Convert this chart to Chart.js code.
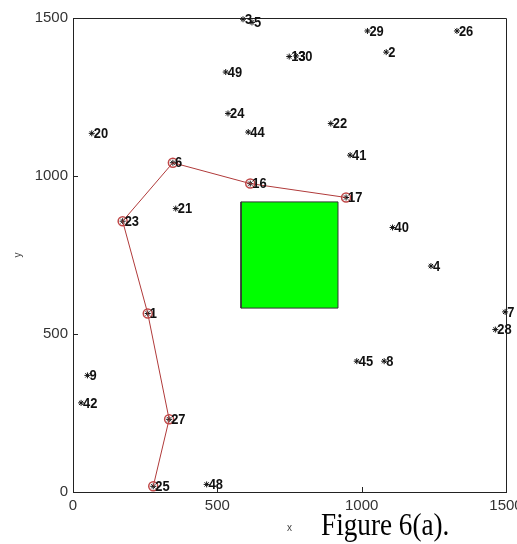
<!DOCTYPE html>
<html>
<head>
<meta charset="utf-8">
<script src="https://cdn.jsdelivr.net/npm/chart.js@4.4.1/dist/chart.umd.min.js"></script>
<style>
  html, body { margin: 0; padding: 0; background: #fff; }
  #wrap { width: 517px; height: 544px; }
</style>
</head>
<body>
<div id="wrap"><canvas id="pathChart"></canvas></div>
<script>
// nodes (id, x, y)
const nodeIds = [1, 2, 3, 4, 5, 6, 7, 8, 9, 13, 16, 17, 20, 21, 22, 23, 24, 25, 26, 27, 28, 29, 30, 40, 41, 42, 44, 45, 48, 49]
const nodeX = [259, 1085, 589, 1240, 620, 346, 1497, 1078, 50, 749, 614, 946, 65, 356, 893, 172, 537, 278, 1330, 333, 1463, 1020, 773, 1107, 960, 28, 607, 983, 463, 529]
const nodeY = [565, 1392, 1496, 715, 1486, 1042, 570, 414, 369, 1378, 976, 932, 1135, 897, 1166, 857, 1198, 18, 1459, 230, 514, 1459, 1380, 837, 1066, 282, 1139, 414, 24, 1329]

// route through the nodes, start -> end
const pathIds = [25, 27, 1, 23, 6, 16, 17]

// obstacle square
const obstacleX = [582, 918]
const obstacleY = [582, 918]

const axisTicks = [0, 500, 1000, 1500]

const nodePoints = nodeIds.map((id, i) => ({ x: nodeX[i], y: nodeY[i] }))
const pathPoints = pathIds.map((id) => nodePoints[nodeIds.indexOf(id)])
const obstaclePoints = [
  { x: obstacleX[0], y: obstacleY[0] },
  { x: obstacleX[1], y: obstacleY[0] },
  { x: obstacleX[1], y: obstacleY[1] },
  { x: obstacleX[0], y: obstacleY[1] },
  { x: obstacleX[0], y: obstacleY[0] },
]

const tickFont = { family: "'Liberation Sans', Arial, sans-serif", size: 15 }

const framePlugin = {
  id: "frame",
  afterDatasetsDraw(chart) {
    const ctx = chart.ctx
    const a = chart.chartArea
    const xs = chart.scales.x
    const ys = chart.scales.y
    ctx.save()
    ctx.strokeStyle = "#222"
    ctx.lineWidth = 1
    ctx.beginPath()
    ctx.moveTo(Math.round(a.left) + 0.5, Math.round(a.top) + 0.5)
    ctx.lineTo(Math.round(a.right) + 0.5, Math.round(a.top) + 0.5)
    ctx.lineTo(Math.round(a.right) + 0.5, Math.round(a.bottom) + 0.5)
    // inward tick marks
    axisTicks.forEach((v) => {
      const px = Math.round(xs.getPixelForValue(v)) + 0.5
      ctx.moveTo(px, a.bottom)
      ctx.lineTo(px, a.bottom - 5)
      const py = Math.round(ys.getPixelForValue(v)) + 0.5
      ctx.moveTo(a.left, py)
      ctx.lineTo(a.left + 5, py)
    })
    ctx.stroke()

    // node labels, drawn just right of each marker
    const meta = chart.getDatasetMeta(2)
    ctx.font = "bold 15px 'Liberation Sans', Arial, sans-serif"
    ctx.fillStyle = "#111"
    ctx.textBaseline = "middle"
    ctx.textAlign = "left"
    meta.data.forEach((pt, i) => {
      ctx.save()
      ctx.translate(pt.x + 2, pt.y + 0.5)
      ctx.scale(0.86, 1)
      ctx.fillText(String(nodeIds[i]), 0, 0)
      ctx.restore()
    })
    ctx.restore()
  },
  afterDraw(chart) {
    const ctx = chart.ctx
    ctx.save()
    ctx.font = "32px 'Liberation Serif', 'Times New Roman', serif"
    ctx.fillStyle = "#000"
    ctx.textBaseline = "alphabetic"
    ctx.translate(321, 535)
    ctx.scale(0.85, 1)
    ctx.fillText("Figure 6(a).", 0, 0)
    ctx.restore()
  },
}

const ctx = document.getElementById("pathChart").getContext("2d")
const pathChart = new Chart(ctx, {
  type: "scatter",
  data: {
    datasets: [
      {
        label: "obstacle",
        data: obstaclePoints,
        showLine: true,
        fill: "shape",
        backgroundColor: "#00ff00",
        borderColor: "#333",
        borderWidth: 1,
        pointRadius: 0,
        tension: 0,
        order: 3,
      },
      {
        label: "path",
        data: pathPoints,
        showLine: true,
        borderColor: "#b03a3a",
        borderWidth: 1,
        tension: 0,
        pointStyle: "circle",
        pointRadius: 4.5,
        pointBorderWidth: 1.5,
        pointBorderColor: "#c04848",
        pointBackgroundColor: "rgba(0,0,0,0)",
        clip: false,
        order: 1,
      },
      {
        label: "nodes",
        data: nodePoints,
        showLine: false,
        pointStyle: "star",
        pointRadius: 3,
        pointBorderWidth: 1,
        pointBorderColor: "#111",
        pointBackgroundColor: "#111",
        clip: false,
        order: 2,
      },
    ],
  },
  options: {
    responsive: true,
    maintainAspectRatio: false,
    animation: false,
    events: [],
    layout: {
      padding: { left: 0, right: 11, top: 18, bottom: 0 },
    },
    plugins: {
      legend: { display: false },
      tooltip: { enabled: false },
    },
    scales: {
      x: {
        type: "linear",
        min: 0,
        max: 1500,
        afterBuildTicks: (s) => {
          s.ticks = axisTicks.map((v) => ({ value: v }))
        },
        afterFit: (s) => {
          s.height = 52
          s.paddingLeft = 0
          s.paddingRight = 0
        },
        grid: { drawOnChartArea: false, drawTicks: false },
        border: { display: true, color: "#222", width: 1 },
        ticks: {
          font: tickFont,
          color: "#333",
          padding: 5,
          maxRotation: 0,
          callback: (v) => String(v),
        },
        title: {
          display: true,
          text: "x",
          font: { family: "'Liberation Sans', Arial, sans-serif", size: 10 },
          color: "#444",
          padding: { top: 0, bottom: 10 },
        },
      },
      y: {
        type: "linear",
        min: 0,
        max: 1500,
        afterBuildTicks: (s) => {
          s.ticks = axisTicks.map((v) => ({ value: v }))
        },
        afterFit: (s) => {
          s.width = 73
          s.paddingTop = 0
          s.paddingBottom = 0
        },
        grid: { drawOnChartArea: false, drawTicks: false },
        border: { display: true, color: "#222", width: 1 },
        ticks: { font: tickFont, color: "#333", padding: 5, callback: (v) => String(v) },
        title: {
          display: true,
          text: "y",
          font: { family: "'Liberation Sans', Arial, sans-serif", size: 10 },
          color: "#444",
          padding: { top: 12, bottom: 0 },
        },
      },
    },
  },
  plugins: [framePlugin],
})
</script>
</body>
</html>
